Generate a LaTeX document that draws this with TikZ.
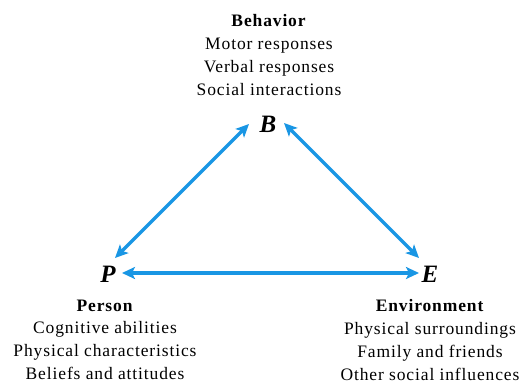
\documentclass[tikz,border=0pt]{standalone}
\usepackage{fontspec}
\setmainfont{Liberation Serif}
\usetikzlibrary{arrows.meta}
\definecolor{arrowblue}{RGB}{25,150,228}
\tikzset{
  lbl/.style={align=center, anchor=north, inner sep=0pt,
    font=\fontsize{17.5}{22.8}\selectfont\addfontfeature{LetterSpace=5}},
  letter/.style={inner sep=0pt, font=\fontsize{25}{25}\selectfont\bfseries\itshape},
  tip/.tip={Stealth[length=13pt,width=12pt,inset=3pt]},
  arr/.style={draw=arrowblue, line width=3.2pt, tip-tip}
}
\begin{document}
\begin{tikzpicture}[x=1pt,y=-1pt]
\useasboundingbox (0,0) rectangle (532,383);
\node[lbl] (beh) at (269,14.5) {\textbf{Behavior}\\Motor responses\\Verbal responses\\Social interactions};
\node[lbl] (per) at (105,299.5) {\textbf{Person}\\Cognitive abilities\\Physical characteristics\\Beliefs and attitudes};
\node[lbl] (env) at (430,299.5) {\textbf{Environment}\\Physical surroundings\\Family and friends\\Other social influences};
\node[letter] (B) at (268,124) {B};
\node[letter] (P) at (108,274) {P};
\node[letter] (E) at (430,274) {E};
\coordinate (bpB) at (249,124);
\coordinate (bpP) at (115,258);
\coordinate (beB) at (284,123);
\coordinate (beE) at (419,258);
\coordinate (peP) at (122,273);
\coordinate (peE) at (419,273);
\draw[arr] (bpB) -- (bpP);
\draw[arr] (beB) -- (beE);
\draw[arr] (peP) -- (peE);
\end{tikzpicture}
\end{document}
